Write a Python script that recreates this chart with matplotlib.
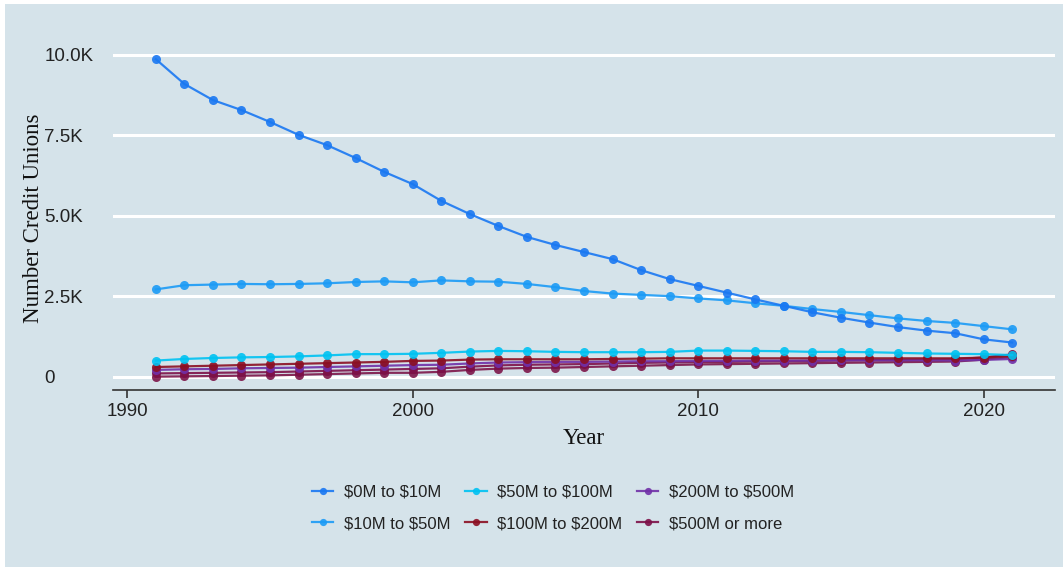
import matplotlib
matplotlib.use("Agg")
import matplotlib.pyplot as plt
from matplotlib.patches import Rectangle
from matplotlib.ticker import FuncFormatter

plt.rcParams["text.parse_math"] = False

years = list(range(1991, 2022))

s_0_10 = [9.87, 9.10, 8.60, 8.29, 7.92, 7.52, 7.20, 6.80, 6.37, 5.99, 5.47, 5.06, 4.69, 4.35, 4.10, 3.88,
          3.66, 3.32, 3.04, 2.83, 2.62, 2.41, 2.21, 2.01, 1.84, 1.69, 1.55, 1.44, 1.36, 1.17, 1.07]
s_10_50 = [2.72, 2.85, 2.87, 2.89, 2.88, 2.89, 2.91, 2.95, 2.97, 2.94, 3.00, 2.97, 2.96, 2.89, 2.79, 2.67,
           2.59, 2.55, 2.51, 2.44, 2.38, 2.29, 2.21, 2.11, 2.02, 1.92, 1.82, 1.74, 1.68, 1.58, 1.48]
s_50_100 = [0.51, 0.56, 0.59, 0.61, 0.62, 0.64, 0.67, 0.71, 0.71, 0.72, 0.75, 0.79, 0.81, 0.80, 0.78, 0.77,
            0.77, 0.77, 0.78, 0.82, 0.82, 0.81, 0.80, 0.78, 0.78, 0.77, 0.75, 0.73, 0.72, 0.71, 0.68]
s_100_200 = [0.31, 0.33, 0.35, 0.37, 0.39, 0.41, 0.43, 0.45, 0.47, 0.50, 0.51, 0.54, 0.55, 0.55, 0.55, 0.55,
             0.56, 0.57, 0.58, 0.58, 0.58, 0.58, 0.58, 0.58, 0.58, 0.58, 0.58, 0.58, 0.58, 0.60, 0.66]
s_200_500 = [0.22, 0.24, 0.25, 0.27, 0.28, 0.29, 0.31, 0.33, 0.35, 0.37, 0.38, 0.42, 0.45, 0.46, 0.47, 0.47,
             0.48, 0.49, 0.49, 0.50, 0.50, 0.51, 0.51, 0.51, 0.52, 0.52, 0.52, 0.52, 0.51, 0.53, 0.56]
s_500_plus = [0.11, 0.12, 0.13, 0.14, 0.15, 0.17, 0.19, 0.21, 0.23, 0.25, 0.27, 0.32, 0.36, 0.38, 0.39, 0.40,
              0.42, 0.44, 0.45, 0.46, 0.47, 0.48, 0.49, 0.50, 0.51, 0.52, 0.53, 0.54, 0.55, 0.61, 0.70]
s_500_plus_b = [0.01, 0.02, 0.03, 0.04, 0.05, 0.07, 0.09, 0.11, 0.13, 0.13, 0.16, 0.22, 0.26, 0.28, 0.29, 0.31,
                0.33, 0.35, 0.37, 0.39, 0.40, 0.41, 0.42, 0.43, 0.44, 0.45, 0.46, 0.47, 0.48, 0.54, 0.62]

labels = ["$0M to $10M", "$10M to $50M", "$50M to $100M", "$100M to $200M", "$200M to $500M", "$500M or more"]
colors = ["#1a78f2", "#1c9bf6", "#00c2f2", "#8b0f22", "#7030a8", "#7d1048"]
series = [s_0_10, s_10_50, s_50_100, s_100_200, s_200_500, s_500_plus]

y_ticks = [0, 2500, 5000, 7500, 10000]
x_ticks = [1990, 2000, 2010, 2020]

bg = "#d5e3ea"
W, H = 1063, 567
fig = plt.figure(figsize=(W / 100, H / 100), dpi=100, facecolor="white")
fig.patches.append(Rectangle((5 / W, 0), 1 - 5 / W, 1 - 4 / H, transform=fig.transFigure,
                             facecolor=bg, edgecolor="none", zorder=-10))

ax = fig.add_axes([113 / W, 1 - 390 / H, (1055 - 113) / W, (390 - 43.4) / H])
ax.set_facecolor(bg)

MS = 6.5
# extra unlabeled bottom line
ax.plot(years, [v * 1000 for v in s_500_plus_b], color="#7a1045", lw=1.6, alpha=0.88,
        marker="o", ms=MS, mec="none", label="_nolegend_", zorder=3)
for vals, lab, c in zip(series[::-1], labels[::-1], colors[::-1]):
    ax.plot(years, [v * 1000 for v in vals], color=c, lw=1.6, alpha=0.9,
            marker="o", ms=MS, mec="none", label=lab, zorder=3)

ax.set_xlim(1989.5, 2022.5)
ax.set_ylim(-404, 10360)
ax.set_yticks(y_ticks)
ax.yaxis.set_major_formatter(FuncFormatter(lambda v, p: "0" if v == 0 else f"{v/1000:.1f}K"))
ax.set_xticks(x_ticks)
ax.grid(axis="y", color="white", lw=2.2, zorder=1)
ax.grid(axis="x", visible=False)
ax.set_axisbelow(True)
for s in ["top", "right", "left"]:
    ax.spines[s].set_visible(False)
ax.spines["bottom"].set_color("#333333")
ax.spines["bottom"].set_linewidth(1.2)

ax.tick_params(axis="y", length=0, pad=49.5, labelsize=13.5, labelcolor="#222222")
for t in ax.get_yticklabels():
    t.set_horizontalalignment("left")
    t.set_fontfamily("Liberation Sans")
ax.tick_params(axis="x", length=6, width=1.2, color="#333333", labelsize=13.5, labelcolor="#222222", pad=3)
for t in ax.get_xticklabels():
    t.set_fontfamily("Liberation Sans")

fig.text(34 / W, 1 - 218 / H, "Number Credit Unions", rotation=90, ha="center", va="center",
         fontsize=16.5, family="Liberation Serif", color="#111111")
fig.text(584 / W, 1 - 438 / H, "Year", ha="center", va="center",
         fontsize=16.5, family="Liberation Serif", color="#111111")

handles, labs = ax.get_legend_handles_labels()
order = [labs.index(l) for l in labels]
handles = [handles[i] for i in order]
leg = fig.legend(handles, labels, ncol=3, loc="center", bbox_to_anchor=(553 / W, 1 - 508 / H),
                 frameon=False, prop={"family": "Liberation Sans", "size": 12},
                 handlelength=1.3, handletextpad=0.65, columnspacing=0.85, labelspacing=1.0,
                 markerscale=0.8)
for t in leg.get_texts():
    t.set_color("#222222")

fig.savefig("out.png", dpi=100, facecolor="white")
